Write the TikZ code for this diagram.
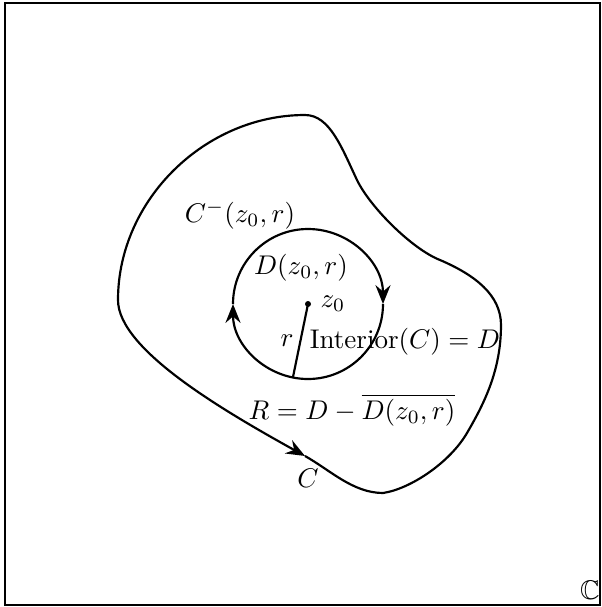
\documentclass[tikz,border=0pt]{standalone}
\usepackage{amssymb}
\usetikzlibrary{arrows.meta}
\begin{document}
\begin{tikzpicture}[x=0.37pt,y=-0.37pt,
  curve/.style={thick},
  lbl/.style={inner sep=0pt},
  >={Stealth[length=7pt,width=5.6pt,inset=2.4pt]}]
\useasboundingbox (0,0) rectangle (602,607);
\draw[line width=0.6pt] (5,3) rectangle (600,605);
% outer curve C
\coordinate (p1) at (118,300);
\coordinate (p2) at (305,456);
\coordinate (p3) at (383,493);
\coordinate (p3b) at (467,433);
\coordinate (p4) at (501,325);
\coordinate (p5) at (440,260);
\coordinate (p6) at (357,180);
\coordinate (p7) at (305,115);
\draw[curve,->] (p1) .. controls (118,350) and (226,412) .. (p2);
\draw[curve] (p2) .. controls (330,470) and (353,493) .. (p3)
  .. controls (410,489) and (449.5,463) .. (p3b)
  .. controls (484.5,403) and (501,370) .. (p4)
  .. controls (501,295) and (475,275) .. (p5)
  .. controls (412,249) and (370,207) .. (p6)
  .. controls (342,148.5) and (330,115) .. (p7)
  .. controls (205,115) and (118,200) .. (p1);
% small circle
\coordinate (z0) at (308,304);
\coordinate (rend) at (293,377);
\draw[curve,->] (z0) ++(180:75) arc[start angle=180, end angle=360, radius=75];
\draw[curve,->] (z0) ++(0:75) arc[start angle=0, end angle=180, radius=75];
\draw[curve] (z0) -- (rend);
\fill (z0) circle[radius=3];
% labels
\node[lbl] (lcm) at (240,215) {$C^-(z_0,r)$};
\node[lbl] (ld) at (301,268) {$D(z_0,r)$};
\node[lbl] (lz) at (333,304) {$z_0$};
\node[lbl] (lr) at (287,341) {$r$};
\node[lbl] (lint) at (405,342) {Interior$(C)=D$};
\node[lbl] (lR) at (352,410) {$R=D-\overline{D(z_0,r)}$};
\node[lbl] (lC) at (308,478) {$C$};
\node[lbl] (lCC) at (590,590) {$\mathbb{C}$};
\end{tikzpicture}
\end{document}
